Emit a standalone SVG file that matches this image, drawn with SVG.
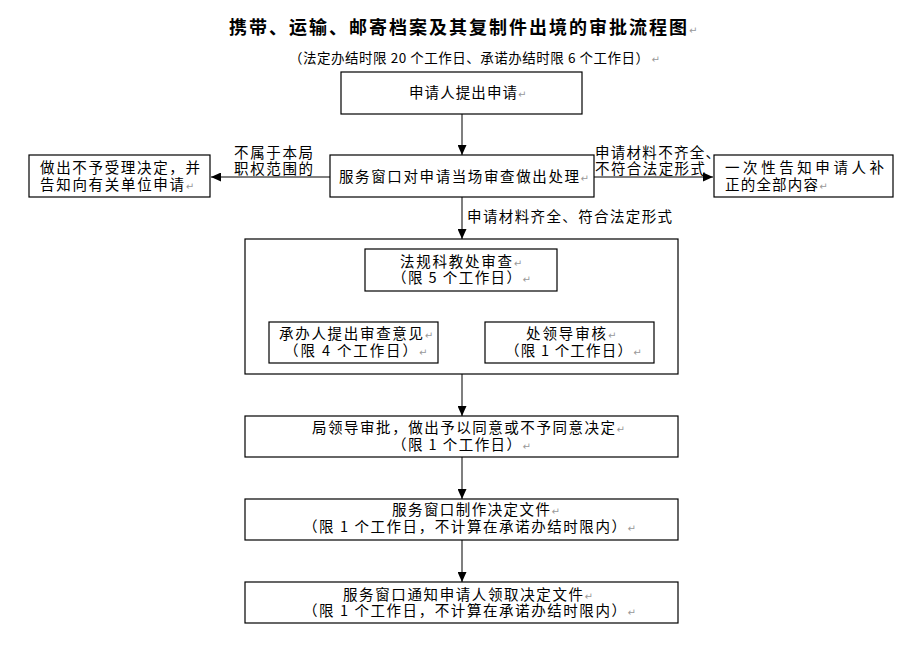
<svg xmlns="http://www.w3.org/2000/svg" width="920" height="652" viewBox="0 0 920 652">
<style>
.t{font-family:"Noto Sans CJK SC","Noto Sans",sans-serif;font-size:14.5px;fill:#000;}
.ti{font-family:"Noto Sans CJK SC","Noto Sans",sans-serif;font-size:18px;font-weight:bold;fill:#000;}
.st{font-family:"Noto Sans CJK SC","Noto Sans",sans-serif;font-size:13.5px;fill:#000;}
.pm{font-family:"DejaVu Sans",sans-serif;font-size:10px;font-weight:normal;fill:#999;}
.box{fill:#fff;stroke:#000;stroke-width:1.2;}
.con{stroke:#555;stroke-width:1.5;fill:none;marker-end:url(#ah);}
</style>
<defs>
<marker id="ah" markerUnits="userSpaceOnUse" markerWidth="10" markerHeight="9" refX="10" refY="4.5" orient="auto">
<path d="M0,0 L10,4.5 L0,9 z" fill="#000"/>
</marker>
</defs>
<rect width="920" height="652" fill="#fff"/>

<g id="title">
<text class="ti" x="229" y="34"><tspan textLength="458" lengthAdjust="spacing">携带、运输、邮寄档案及其复制件出境的审批流程图</tspan><tspan class="pm">↵</tspan></text>
<text class="st" x="289" y="63"><tspan textLength="360" lengthAdjust="spacing">（法定办结时限 20 个工作日、承诺办结时限 6 个工作日）</tspan><tspan class="pm" dx="2">↵</tspan></text>
</g>

<g id="connectors">
<line class="con" x1="462" y1="114" x2="462" y2="155"/>
<line class="con" x1="330" y1="177" x2="211" y2="177"/>
<line class="con" x1="594" y1="177" x2="713" y2="177"/>
<line class="con" x1="462" y1="197" x2="462" y2="239"/>
<line class="con" x1="379" y1="291" x2="379" y2="322"/>
<line class="con" x1="546" y1="291" x2="546" y2="322"/>
<line class="con" x1="462" y1="374" x2="462" y2="416"/>
<line class="con" x1="462" y1="457" x2="462" y2="499"/>
<line class="con" x1="462" y1="540" x2="462" y2="582"/>
<text class="t"><tspan x="234" y="158" textLength="79" lengthAdjust="spacing">不属于本局</tspan><tspan x="234" y="174" textLength="79" lengthAdjust="spacing">职权范围的</tspan></text>
<text class="t"><tspan x="595" y="158" textLength="125" lengthAdjust="spacing">申请材料不齐全、</tspan><tspan x="595" y="174" textLength="110" lengthAdjust="spacing">不符合法定形式</tspan></text>
<text class="t" x="467" y="221.5" textLength="205" lengthAdjust="spacing">申请材料齐全、符合法定形式</text>
</g>

<g id="n-apply">
<rect class="box" x="341" y="72" width="241" height="42"/>
<text class="t" x="409" y="98"><tspan textLength="108" lengthAdjust="spacing">申请人提出申请</tspan><tspan class="pm">↵</tspan></text>
</g>

<g id="n-window">
<rect class="box" x="330" y="155" width="264" height="42"/>
<text class="t" x="339" y="182"><tspan textLength="240" lengthAdjust="spacing">服务窗口对申请当场审查做出处理</tspan><tspan class="pm">↵</tspan></text>
</g>

<g id="n-reject">
<rect class="box" x="29" y="155" width="181" height="42"/>
<text class="t"><tspan x="40" y="173" textLength="160" lengthAdjust="spacing">做出不予受理决定，并</tspan><tspan x="40" y="190" textLength="144" lengthAdjust="spacing">告知向有关单位申请</tspan><tspan class="pm">↵</tspan></text>
</g>

<g id="n-supplement">
<rect class="box" x="714" y="155" width="179" height="42"/>
<text class="t"><tspan x="725" y="173" textLength="159" lengthAdjust="spacing">一次性告知申请人补</tspan><tspan x="725" y="190" textLength="93" lengthAdjust="spacing">正的全部内容</tspan><tspan class="pm">↵</tspan></text>
</g>

<g id="n-group">
<rect class="box" x="245" y="239" width="433" height="135"/>
</g>

<g id="n-legal">
<rect class="box" x="365" y="249" width="192" height="42"/>
<text class="t"><tspan x="400" y="266.5" textLength="112" lengthAdjust="spacing">法规科教处审查</tspan><tspan class="pm">↵</tspan><tspan x="392" y="283" textLength="129" lengthAdjust="spacing">（限 5 个工作日）</tspan><tspan class="pm">↵</tspan></text>
</g>

<g id="n-handler">
<rect class="box" x="269" y="322" width="169" height="41"/>
<text class="t"><tspan x="279" y="339" textLength="144" lengthAdjust="spacing">承办人提出审查意见</tspan><tspan class="pm">↵</tspan><tspan x="284" y="356" textLength="133" lengthAdjust="spacing">（限 4 个工作日）</tspan><tspan class="pm">↵</tspan></text>
</g>

<g id="n-division">
<rect class="box" x="485" y="322" width="169" height="41"/>
<text class="t"><tspan x="526" y="339" textLength="80" lengthAdjust="spacing">处领导审核</tspan><tspan class="pm">↵</tspan><tspan x="505" y="356" textLength="127" lengthAdjust="spacing">（限 1 个工作日）</tspan><tspan class="pm">↵</tspan></text>
</g>

<g id="n-bureau">
<rect class="box" x="245" y="416" width="433" height="41"/>
<text class="t"><tspan x="312" y="433" textLength="303" lengthAdjust="spacing">局领导审批，做出予以同意或不予同意决定</tspan><tspan class="pm">↵</tspan><tspan x="392" y="450" textLength="129" lengthAdjust="spacing">（限 1 个工作日）</tspan><tspan class="pm">↵</tspan></text>
</g>

<g id="n-make">
<rect class="box" x="245" y="499" width="433" height="41"/>
<text class="t"><tspan x="392" y="515" textLength="158" lengthAdjust="spacing">服务窗口制作决定文件</tspan><tspan class="pm">↵</tspan><tspan x="303" y="532" textLength="323" lengthAdjust="spacing">（限 1 个工作日，不计算在承诺办结时限内）</tspan><tspan class="pm">↵</tspan></text>
</g>

<g id="n-notify">
<rect class="box" x="245" y="582" width="433" height="41"/>
<text class="t"><tspan x="343" y="600" textLength="240" lengthAdjust="spacing">服务窗口通知申请人领取决定文件</tspan><tspan class="pm">↵</tspan><tspan x="303" y="616" textLength="323" lengthAdjust="spacing">（限 1 个工作日，不计算在承诺办结时限内）</tspan><tspan class="pm">↵</tspan></text>
</g>
</svg>
